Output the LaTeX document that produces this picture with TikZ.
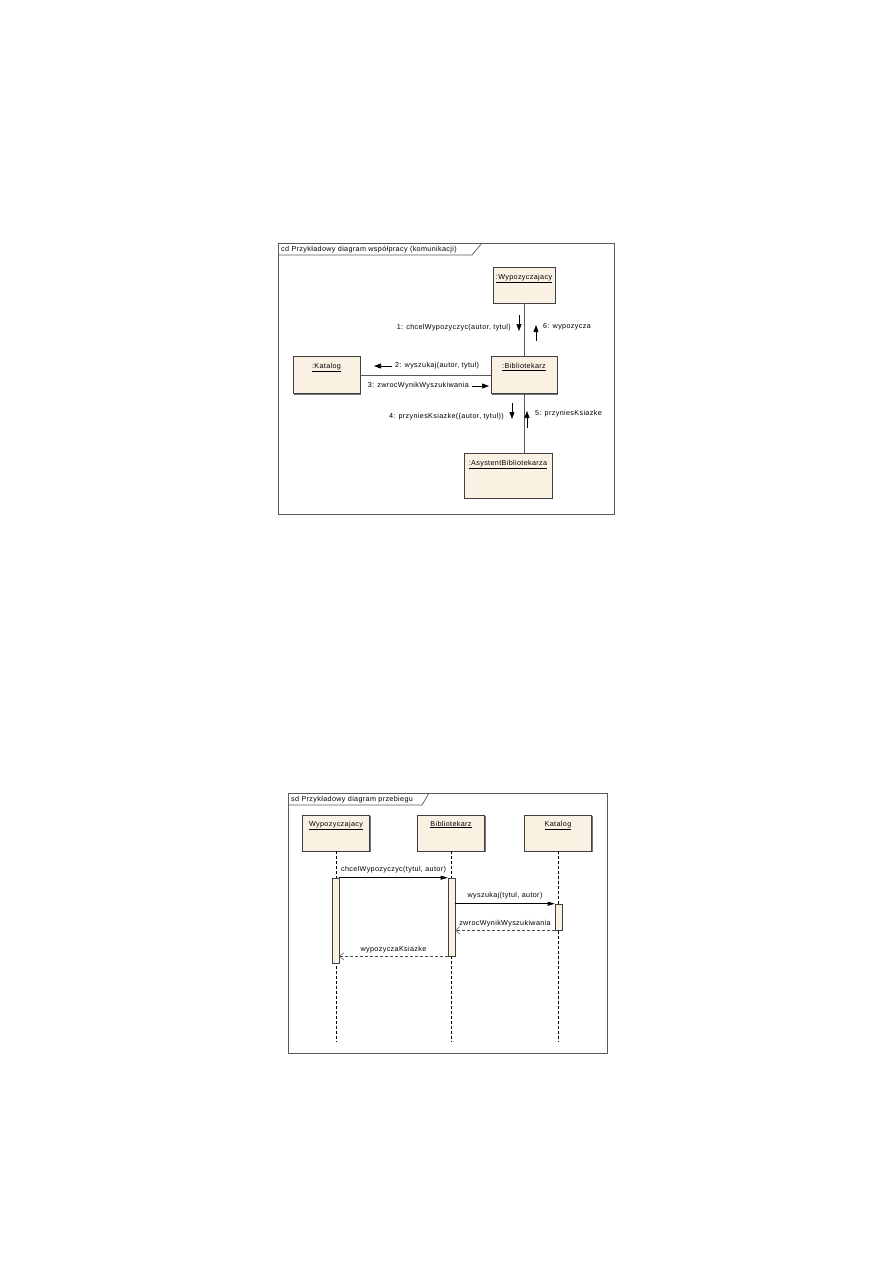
\documentclass[tikz,border=0pt]{standalone}
\usepackage{fontspec}
\setmainfont{Liberation Sans}
\newfontfamily\diafont[LetterSpace=5]{Liberation Sans}
\usetikzlibrary{arrows.meta,shadows}
\definecolor{boxfill}{HTML}{FBF1E3}
\definecolor{edge}{HTML}{404040}
\definecolor{frm}{HTML}{5A5A5A}
\tikzset{
  txt/.style={font=\diafont\fontsize{7.2}{8}\selectfont, inner sep=0pt},
  obj/.style={draw=edge, fill=boxfill, line width=0.6pt, inner sep=0pt,
    general shadow={fill=black!55, shadow xshift=1.2pt, shadow yshift=-1.2pt}},
  act/.style={draw=edge, fill=boxfill, line width=0.6pt, inner sep=0pt, minimum width=7pt},
  frame/.style={draw=frm, line width=0.7pt},
  link/.style={draw=black!65, line width=0.6pt},
  msgarrow/.style={line width=0.6pt, -{Triangle[length=7pt,width=5pt]}},
  seqcall/.style={line width=0.6pt, -{Triangle[length=7pt,width=4pt]}},
  seqret/.style={line width=0.5pt, densely dashed, draw=black!70, -{Straight Barb[length=4pt,width=7pt]}},
  life/.style={line width=0.5pt, densely dashed},
}
\begin{document}
\begin{tikzpicture}[x=1pt,y=-1pt]
\useasboundingbox (0,0) rectangle (893,1263);

% ---------- Communication diagram ----------
\draw[frame] (278,243) rectangle (614,514);
\draw[frame] (278,255) -- (472,255) -- (482,243);
\node[txt, anchor=west] (t1) at (281,249.5) {cd Przykładowy diagram współpracy (komunikacji)};

\node[obj, minimum width=62pt, minimum height=36pt,
  label={[txt, anchor=north, yshift=-7pt]north:\underline{:Wypozyczajacy}}] (wyp) at (524,285) {};
\node[obj, minimum width=66pt, minimum height=37pt,
  label={[txt, anchor=north, yshift=-7pt]north:\underline{:Bibliotekarz}}] (bib) at (524,375) {};
\node[obj, minimum width=67pt, minimum height=37pt,
  label={[txt, anchor=north, yshift=-7pt]north:\underline{:Katalog}}] (kat) at (326.5,375) {};
\node[obj, minimum width=88pt, minimum height=45pt,
  label={[txt, anchor=north, yshift=-7pt]north:\underline{:AsystentBibliotekarza}}] (asy) at (508,475.5) {};

\draw[link] (wyp.south -| bib.north) -- (bib.north);
\draw[link] (kat.east) -- (bib.west);
\draw[link] (bib.south) -- (bib.south |- asy.north);

\coordinate (m1a) at (519,315); \coordinate (m1b) at (519,331);
\draw[msgarrow] (m1a) -- (m1b);
\node[txt, anchor=east] (l1) at (511,328) {1: chcelWypozyczyc(autor, tytul)};

\coordinate (m6a) at (536,341); \coordinate (m6b) at (536,325);
\draw[msgarrow] (m6a) -- (m6b);
\node[txt, anchor=west] (l6) at (543,327) {6: wypozycza};

\coordinate (m2a) at (392,366); \coordinate (m2b) at (374,366);
\draw[msgarrow] (m2a) -- (m2b);
\node[txt, anchor=west] (l2) at (395,366) {2: wyszukaj(autor, tytul)};

\coordinate (m3a) at (472,386); \coordinate (m3b) at (489,386);
\draw[msgarrow] (m3a) -- (m3b);
\node[txt, anchor=east] (l3) at (469,386) {3: zwrocWynikWyszukiwania};

\coordinate (m4a) at (512,403); \coordinate (m4b) at (512,419);
\draw[msgarrow] (m4a) -- (m4b);
\node[txt, anchor=east] (l4) at (504,417) {4: przyniesKsiazke((autor, tytul))};

\coordinate (m5a) at (527,428); \coordinate (m5b) at (527,411);
\draw[msgarrow] (m5a) -- (m5b);
\node[txt, anchor=west] (l5) at (535,414) {5: przyniesKsiazke};

% ---------- Sequence diagram ----------
\draw[frame] (288,793) rectangle (607,1053);
\draw[frame] (288,805) -- (422,805) -- (429,793);
\node[txt, anchor=west] (t2) at (291,799.5) {sd Przykładowy diagram przebiegu};

\node[obj, minimum width=67pt, minimum height=36pt,
  label={[txt, anchor=north, yshift=-6pt]north:\underline{Wypozyczajacy}}] (lw) at (336,833) {};
\node[obj, minimum width=67pt, minimum height=36pt,
  label={[txt, anchor=north, yshift=-6pt]north:\underline{Bibliotekarz}}] (lb) at (451,833) {};
\node[obj, minimum width=67pt, minimum height=36pt,
  label={[txt, anchor=north, yshift=-6pt]north:\underline{Katalog}}] (lk) at (558,833) {};

\coordinate (ew) at (336,1042);
\coordinate (eb) at (451,1042);
\coordinate (ek) at (558,1042);
\draw[life] (lw.south) -- (ew);
\draw[life] (lb.south) -- (eb);
\draw[life] (lk.south) -- (ek);

\node[act, minimum height=85pt] (aw) at (335.5,920.5) {};
\node[act, minimum height=78pt] (ab) at (451.5,917) {};
\node[act, minimum height=26pt] (ak) at (558.5,917) {};

\draw[seqcall] (aw.north east) -- (ab.north west)
  node[txt, midway, above=4pt] (s1) {chcelWypozyczyc(tytul, autor)};
\draw[seqcall] (ab.east |- ak.north) -- (ak.north west)
  node[txt, midway, above=4pt] (s2) {wyszukaj(tytul, autor)};
\draw[seqret] (ak.south west) -- (ab.east |- ak.south)
  node[txt, midway, above=3pt] (s3) {zwrocWynikWyszukiwania};
\draw[seqret] (ab.south west) -- (aw.east |- ab.south)
  node[txt, midway, above=3pt] (s4) {wypozyczaKsiazke};

\end{tikzpicture}
\end{document}
